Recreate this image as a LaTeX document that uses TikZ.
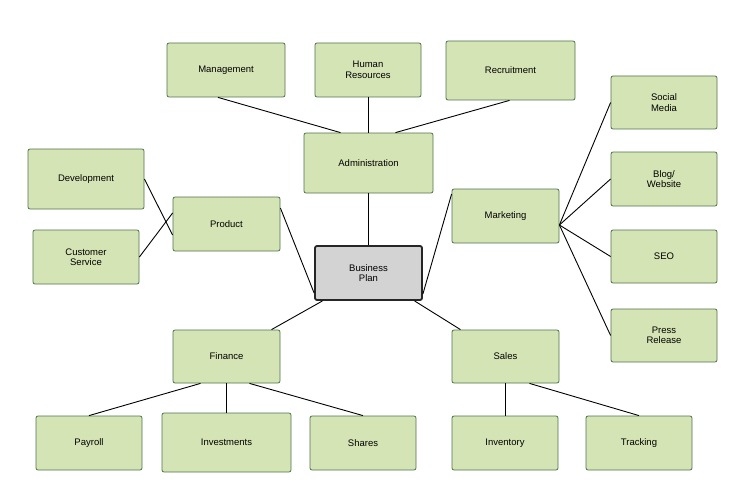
\documentclass[tikz,border=0pt]{standalone}
\usepackage{fontspec}
\setmainfont{Liberation Sans}
\begin{document}
\begin{tikzpicture}[x=1pt,y=-1pt,
 box/.style={draw=black!60!green!40!gray,fill={rgb,255:red,213;green,228;blue,181},rounded corners=2pt,line width=0.8pt,align=center,font=\fontsize{9.5}{10.5}\selectfont,inner sep=0pt},
 ln/.style={line width=0.9pt}]
\useasboundingbox (0,0) rectangle (749,500);
\newcommand{\bx}[6]{\node[box,minimum width=#4-#2,minimum height=#5-#3] (#1) at ({(#2+#4)/2},{(#3+#5)/2}) {#6};}
\bx{mgmt}{167}{43}{285}{97}{Management}
\bx{hr}{315}{43}{421}{97}{Human\\Resources}
\bx{rec}{446}{41}{575}{100}{Recruitment}
\bx{adm}{304}{133}{433}{193}{Administration}
\bx{soc}{611}{76}{717}{129}{Social\\Media}
\bx{blog}{611}{152}{717}{206}{Blog/\\Website}
\bx{seo}{611}{230}{717}{283}{SEO}
\bx{pr}{611}{309}{717}{362}{Press\\Release}
\bx{mkt}{452}{189}{559}{243}{Marketing}
\bx{dev}{28}{149}{144}{209}{Development}
\bx{cs}{33}{230}{139}{284}{Customer\\Service}
\bx{prod}{173}{197}{280}{251}{Product}
\node[box,fill={rgb,255:red,211;green,211;blue,211},draw=black!85,line width=1.8pt,minimum width=107,minimum height=54] (bp) at (368.5,273) {Business\\Plan};
\bx{fin}{173}{330}{280}{383}{Finance}
\bx{sal}{452}{330}{559}{383}{Sales}
\bx{pay}{36}{416}{142}{470}{Payroll}
\bx{inv}{162}{413}{291}{472}{Investments}
\bx{sh}{310}{416}{416}{470}{Shares}
\bx{invt}{452}{416}{558}{470}{Inventory}
\bx{tr}{586}{416}{692}{470}{Tracking}
\draw[ln] ([xshift=-8pt]mgmt.south) -- ([xshift=-28pt]adm.north);
\draw[ln] (hr.south) -- (hr.south |- adm.north);
\draw[ln] ([xshift=-1pt]rec.south) -- ([xshift=27pt]adm.north);
\draw[ln] (adm.south) -- (bp.north);
\draw[ln] ([yshift=22pt]mkt.west) -- ([yshift=-21pt]bp.east);
\draw[ln] ([yshift=-9pt]mkt.east) -- (soc.west);
\draw[ln] ([yshift=-9pt]mkt.east) -- (blog.west);
\draw[ln] ([yshift=-9pt]mkt.east) -- (seo.west);
\draw[ln] ([yshift=-9pt]mkt.east) -- (pr.west);
\draw[ln] (dev.east) -- ([yshift=-11pt]prod.west);
\draw[ln] (cs.east) -- ([yshift=11pt]prod.west);
\draw[ln] ([yshift=16pt]prod.east) -- ([yshift=-20pt]bp.west);
\draw[ln] ([xshift=45pt]fin.north) -- ([xshift=-46pt]bp.south);
\draw[ln] ([xshift=-45pt]sal.north) -- ([xshift=46pt]bp.south);
\draw[ln] ([xshift=-26pt]fin.south) -- (pay.north);
\draw[ln] ([xshift=0pt]fin.south) -- (fin.south |- inv.north);
\draw[ln] ([xshift=23pt]fin.south) -- (sh.north);
\draw[ln] (sal.south) -- (sal.south |- invt.north);
\draw[ln] ([xshift=24pt]sal.south) -- (tr.north);
\end{tikzpicture}
\end{document}
